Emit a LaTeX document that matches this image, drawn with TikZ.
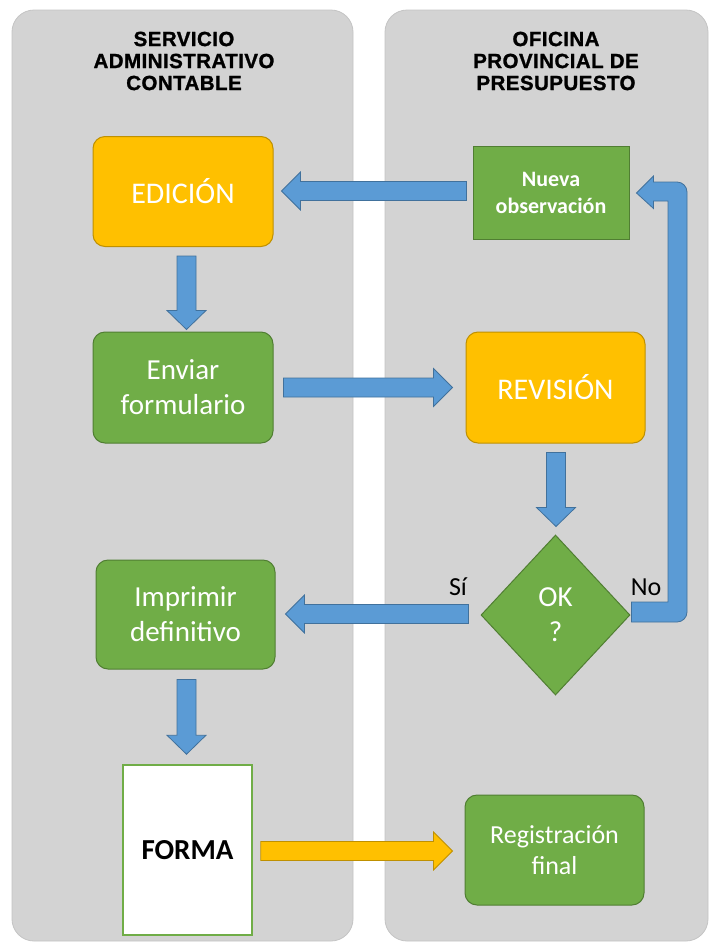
\documentclass[tikz,border=0pt]{standalone}
\usepackage{fontspec}
\setmainfont{Carlito}
\newfontfamily\hdrfont[LetterSpace=2.2,BoldFeatures={FakeBold=1.2}]{Liberation Sans}
\usetikzlibrary{shapes.geometric,calc}
\definecolor{lanegray}{HTML}{D3D3D3}
\definecolor{laneedge}{HTML}{C4C4C4}
\definecolor{orangefill}{HTML}{FFC000}
\definecolor{orangeedge}{HTML}{BF9000}
\definecolor{greenfill}{HTML}{70AD47}
\definecolor{greenedge}{HTML}{507E32}
\definecolor{bluefill}{HTML}{5B9BD5}
\definecolor{blueedge}{HTML}{41719C}
\newcommand\harrow[3][bluearrow]{%
  \filldraw[#1] let \p1=#2, \p2=#3, \n1={sign(\x2-\x1)} in
    (\x1,{\y1+9.5pt}) -- ({\x2-(\n1)*19pt},{\y1+9.5pt}) -- ({\x2-(\n1)*19pt},{\y1+19pt})
    -- (\x2,\y1) -- ({\x2-(\n1)*19pt},{\y1-19pt}) -- ({\x2-(\n1)*19pt},{\y1-9.5pt})
    -- (\x1,{\y1-9.5pt}) -- cycle;}
\newcommand\varrow[3][bluearrow]{%
  \filldraw[#1] let \p1=#2, \p2=#3, \n1={sign(\y2-\y1)} in
    ({\x1-9.5pt},\y1) -- ({\x1-9.5pt},{\y2-(\n1)*19pt}) -- ({\x1-19.5pt},{\y2-(\n1)*19pt})
    -- (\x1,\y2) -- ({\x1+19.5pt},{\y2-(\n1)*19pt}) -- ({\x1+9.5pt},{\y2-(\n1)*19pt})
    -- ({\x1+9.5pt},\y1) -- cycle;}
\begin{document}
\begin{tikzpicture}[x=1pt,y=-1pt,
  lane/.style={fill=lanegray,draw=laneedge,line width=0.8pt,rounded corners=22pt},
  hdr/.style={align=center,font=\hdrfont\bfseries\fontsize{20.5}{22}\selectfont,text=black,inner sep=0pt},
  basebox/.style={align=center,text=white,inner sep=0pt,line width=1pt,font=\fontsize{29}{35}\selectfont},
  obox/.style={basebox,fill=orangefill,draw=orangeedge,rounded corners=12pt,font=\fontsize{30}{35}\selectfont},
  gbox/.style={basebox,fill=greenfill,draw=greenedge,rounded corners=12pt},
  bluearrow/.style={fill=bluefill,draw=blueedge,line width=0.8pt},
  orangearrow/.style={fill=orangefill,draw=orangeedge,line width=0.8pt},
  lbl/.style={text=black,font=\fontsize{26}{30}\selectfont,inner sep=0pt}]
\useasboundingbox (0,0) rectangle (710,943);
\fill[white] (0,0) rectangle (710,943);
% lanes
\draw[lane] (12,10) rectangle (353,941);
\draw[lane] (385,10) rectangle (708,941);
% headers
\node[hdr] (h1) at (184,61) {SERVICIO\\ADMINISTRATIVO\\CONTABLE};
\node[hdr] (h2) at (556,61) {OFICINA\\PROVINCIAL DE\\PRESUPUESTO};
% nodes
\node[obox,minimum width=180pt,minimum height=110pt] (edicion) at (183,191.5) {EDICIÓN};
\node[gbox,minimum width=180pt,minimum height=111pt] (enviar) at (183,387.5) {Enviar\\formulario};
\node[obox,minimum width=179pt,minimum height=111pt] (revision) at (555.5,387.5) {REVISIÓN};
\node[basebox,fill=greenfill,draw=greenedge,minimum width=156pt,minimum height=93pt,
      font=\bfseries\fontsize{22}{27}\selectfont] (nueva) at (551,192.5) {Nueva\\observación};
\node[basebox,diamond,aspect=0.93,fill=greenfill,draw=greenedge,minimum width=149pt,
      minimum height=160pt,font=\fontsize{29}{35}\selectfont] (ok) at (555.5,615) {OK\\?};
\node[gbox,minimum width=179pt,minimum height=109pt] (imprimir) at (185.5,614.5) {Imprimir\\definitivo};
\node[fill=white,draw=greenfill,line width=1.5pt,minimum width=129pt,minimum height=170pt,
      inner sep=0pt,font=\bfseries\fontsize{29}{35}\selectfont,text=black] (forma) at (187.5,850) {FORMA};
\node[gbox,minimum width=179pt,minimum height=110pt,font=\fontsize{26}{31}\selectfont] (reg) at (554.5,850) {Registración\\final};
% labels
\node[lbl] (si) at (458,587) {Sí};
\node[lbl] (no) at (646,587) {No};
% arrows
\harrow{($(nueva.west)+(-6,-1.5)$)}{($(edicion.east)+(8,-1.5)$)}
\varrow{($(edicion.south)+(3.5,9)$)}{($(enviar.north)+(3.5,-2)$)}
\harrow{($(enviar.east)+(10,0)$)}{($(revision.west)+(-13,0)$)}
\varrow{($(revision.south)+(0.5,9)$)}{($(ok.north)+(0.5,-8)$)}
\harrow{($(ok.west)+(-12,-1)$)}{($(imprimir.east)+(10,-0.5)$)}
\varrow{($(imprimir.south)+(1,10)$)}{($(forma.north)+(-1,-10)$)}
\harrow[orangearrow]{($(forma.east)+(8,1)$)}{($(reg.west)+(-12,1)$)}
\coordinate (loopx) at (677.5,400);
\filldraw[bluearrow] let \p1=(ok.east), \p2=(nueva.east), \p3=(loopx) in
  ({\x1+1pt},{\y1+13pt}) -- ({\x3-9.5pt},{\y1+13pt}) -- ({\x3-9.5pt},{\y2-8.5pt})
  -- ({\x2+24pt},{\y2-8.5pt}) -- ({\x2+24pt},{\y2-16pt}) -- ({\x2+7pt},{\y2-0.5pt})
  -- ({\x2+24pt},{\y2+16.5pt}) -- ({\x2+24pt},{\y2+10.5pt})
  [rounded corners=10pt] -- ({\x3+9.5pt},{\y2+10.5pt}) -- ({\x3+9.5pt},{\y1-7pt})
  [sharp corners] -- ({\x1+1pt},{\y1-7pt}) -- cycle;
\end{tikzpicture}
\end{document}
